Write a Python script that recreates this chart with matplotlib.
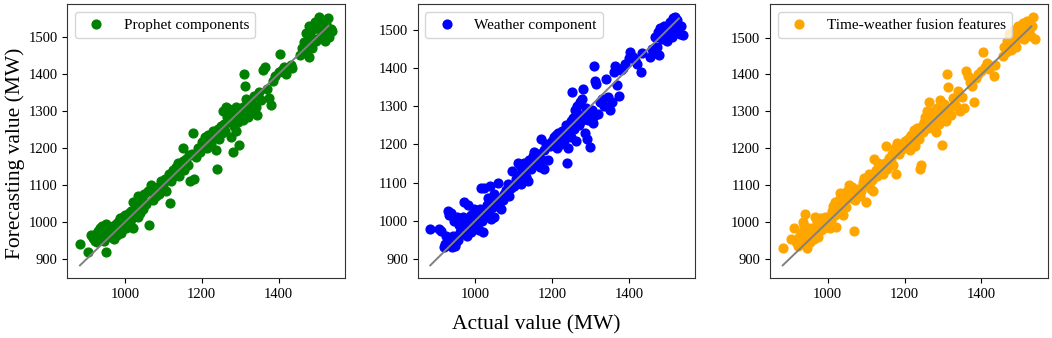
import numpy as np
import matplotlib
matplotlib.use("Agg")
import matplotlib.pyplot as plt

plt.rcParams['font.family'] = ['Liberation Serif', 'DejaVu Serif']

# actual load (MW), shared by all three panels
actual = [883, 905, 912, 918, 922, 925, 928, 930, 933, 935, 938, 940, 942, 945, 948, 950, 952, 955, 958, 960,
          962, 965, 968, 970, 972, 975, 978, 980, 982, 985, 988, 990, 993, 995, 998, 1000, 1003, 1005, 1008, 1010,
          1012, 1015, 1018, 1020, 1022, 1025, 1028, 1030, 1033, 1035, 1038, 1040, 1043, 1045, 1048, 1050, 1055, 1060, 1063, 1068,
          1072, 1075, 1080, 1085, 1088, 1092, 1095, 1100, 1105, 1108, 1112, 1115, 1118, 1120, 1125, 1128, 1132, 1135, 1138, 1140,
          1145, 1150, 1152, 1155, 1160, 1165, 1168, 1170, 1175, 1178, 1180, 1185, 1190, 1195, 1200, 1205, 1208, 1210, 1213, 1215,
          1218, 1222, 1225, 1228, 1232, 1235, 1238, 1240, 1242, 1245, 1248, 1250, 1253, 1255, 1258, 1260, 1263, 1265, 1268, 1270,
          1272, 1275, 1278, 1280, 1283, 1285, 1288, 1290, 1293, 1295, 1298, 1300, 1303, 1306, 1308, 1310, 1312, 1315, 1320, 1325,
          1330, 1335, 1340, 1345, 1350, 1355, 1360, 1365, 1370, 1375, 1380, 1385, 1390, 1400, 1404, 1410, 1415, 1420, 1432, 1435,
          1455, 1460, 1465, 1468, 1472, 1475, 1478, 1480, 1485, 1488, 1490, 1495, 1498, 1500, 1505, 1508, 1512, 1515, 1520, 1522,
          1525, 1528, 1532, 1535, 1540]

prophet = [940, 918, 965, 958, 950, 968, 945, 975, 960, 985, 955, 990, 970, 948, 980, 918, 995, 965, 975, 985,
           970, 960, 985, 990, 955, 975, 995, 965, 1000, 980, 1010, 970, 1005, 1015, 990, 1020, 985, 1010, 1000, 1025,
           1000, 1030, 1010, 1055, 985, 1035, 1020, 1045, 1015, 1070, 1040, 1025, 1055, 1060, 1035, 1075, 1050, 1085, 992, 1100,
           1060, 1080, 1070, 1095, 1075, 1090, 1110, 1100, 1115, 1085, 1120, 1130, 1052, 1110, 1140, 1125, 1150, 1135, 1160, 1125,
           1145, 1165, 1200, 1140, 1170, 1155, 1180, 1112, 1185, 1240, 1117, 1175, 1200, 1190, 1215, 1205, 1230, 1220, 1200, 1235,
           1220, 1235, 1210, 1245, 1230, 1240, 1195, 1142, 1250, 1225, 1255, 1260, 1240, 1300, 1265, 1245, 1310, 1285, 1270, 1305,
           1275, 1230, 1300, 1190, 1280, 1260, 1310, 1245, 1285, 1270, 1207, 1300, 1290, 1275, 1310, 1400, 1367, 1333, 1285, 1300,
           1320, 1340, 1310, 1290, 1350, 1330, 1410, 1420, 1360, 1335, 1315, 1380, 1395, 1405, 1453, 1410, 1420, 1400, 1425, 1415,
           1450, 1470, 1485, 1460, 1510, 1480, 1445, 1530, 1500, 1470, 1520, 1540, 1490, 1525, 1555, 1500, 1545, 1515, 1490, 1535,
           1510, 1550, 1500, 1520, 1515]

weather = [978, 978, 972, 930, 940, 960, 1025, 945, 1015, 950, 1020, 930, 960, 1000, 935, 945, 1010, 950, 990, 970,
           995, 965, 1010, 975, 1050, 985, 960, 1040, 990, 1005, 970, 1015, 980, 1000, 1030, 990, 1020, 1010, 995, 975,
           1030, 1085, 1000, 970, 1085, 1020, 1010, 1040, 1060, 1025, 1090, 1005, 1050, 1035, 1070, 1010, 1060, 1100, 1045, 1030,
           1055, 1070, 1080, 1095, 1065, 1085, 1130, 1090, 1110, 1100, 1150, 1120, 1095, 1140, 1130, 1150, 1115, 1145, 1105, 1160,
           1135, 1170, 1180, 1160, 1150, 1175, 1140, 1215, 1160, 1135, 1185, 1200, 1160, 1195, 1210, 1220, 1200, 1225, 1190, 1230,
           1215, 1200, 1235, 1225, 1210, 1250, 1245, 1152, 1190, 1230, 1260, 1220, 1338, 1270, 1240, 1290, 1210, 1300, 1280, 1250,
           1310, 1260, 1320, 1345, 1275, 1230, 1295, 1215, 1265, 1280, 1193, 1270, 1290, 1255, 1275, 1405, 1365, 1357, 1280, 1310,
           1320, 1300, 1372, 1325, 1290, 1310, 1390, 1405, 1355, 1328, 1395, 1400, 1410, 1425, 1443, 1430, 1420, 1410, 1390, 1440,
           1430, 1450, 1440, 1480, 1455, 1495, 1435, 1505, 1475, 1490, 1510, 1485, 1500, 1470, 1495, 1520, 1480, 1530, 1535, 1505,
           1525, 1500, 1490, 1510, 1487]

fusion = [930, 955, 985, 945, 935, 960, 940, 970, 950, 1000, 990, 1022, 960, 930, 975, 965, 985, 945, 970, 960,
          985, 955, 1015, 975, 1000, 960, 990, 1010, 980, 995, 1005, 985, 1015, 1000, 990, 1010, 995, 985, 1020, 1005,
          1030, 1045, 1055, 1020, 988, 1040, 1025, 1060, 1080, 1035, 1050, 1020, 1075, 1060, 1040, 1085, 1100, 1065, 1095, 975,
          1060, 1075, 1090, 1070, 1085, 1110, 1120, 1055, 1100, 1130, 1090, 1115, 1085, 1170, 1140, 1125, 1160, 1150, 1135, 1145,
          1130, 1160, 1205, 1145, 1175, 1170, 1185, 1155, 1200, 1130, 1215, 1185, 1195, 1210, 1220, 1215, 1205, 1225, 1195, 1230,
          1235, 1220, 1250, 1205, 1255, 1240, 1225, 1143, 1155, 1260, 1245, 1270, 1285, 1265, 1300, 1255, 1275, 1325, 1260, 1290,
          1280, 1255, 1300, 1270, 1245, 1310, 1290, 1265, 1330, 1280, 1209, 1305, 1320, 1295, 1275, 1402, 1365, 1310, 1290, 1335,
          1330, 1315, 1355, 1300, 1340, 1310, 1410, 1395, 1380, 1370, 1325, 1390, 1400, 1410, 1462, 1420, 1430, 1415, 1395, 1425,
          1450, 1475, 1460, 1490, 1510, 1480, 1465, 1500, 1520, 1490, 1475, 1530, 1505, 1515, 1500, 1540, 1495, 1525, 1545, 1510,
          1520, 1505, 1530, 1557, 1497]

labels = ['Prophet components', 'Weather component', 'Time-weather fusion features']
colors = ['green', 'blue', 'orange']
series = [prophet, weather, fusion]

fig = plt.figure(figsize=(10.52, 3.38), dpi=100)
lefts = [0.064, 0.397, 0.732]
line_x = [min(actual), max(actual) - 10]

for left, pred, lab, col in zip(lefts, series, labels, colors):
    ax = fig.add_axes([left, 0.178, 0.264, 0.81])
    ax.scatter(actual, pred, s=40, color=col, label=lab)
    ax.plot(line_x, line_x, color='gray', lw=1.4)
    ax.set_xticks([1000, 1200, 1400])
    ax.set_yticks([900, 1000, 1100, 1200, 1300, 1400, 1500])
    ax.tick_params(labelsize=10.5)
    for sp in ax.spines.values():
        sp.set_color('#333333')
    ax.legend(loc='upper left', fontsize=11)

fig.text(0.014, 0.547, 'Forecasting value (MW)', rotation=90, ha='center', va='center', fontsize=15.5)
fig.text(0.51, 0.04, 'Actual value (MW)', ha='center', va='center', fontsize=15.5)

fig.savefig('out.png', dpi=100)
